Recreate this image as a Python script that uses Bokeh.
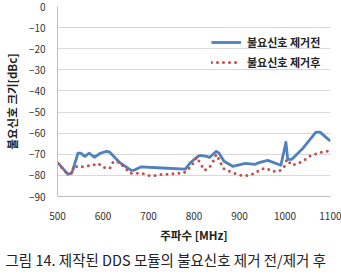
from bokeh.plotting import figure
from bokeh.models import Title, Legend, LegendItem, Range1d, FixedTicker
from bokeh.embed import file_html
from bokeh.resources import INLINE

# Before removal (blue line)
freq_before = [500, 523, 532, 545, 551, 560, 570, 581, 594, 608, 615, 636, 662, 668, 683,
               730, 781, 792, 806, 813, 828, 834, 849, 855, 866, 885, 913, 934, 945, 962,
               991, 1002, 1006, 1015, 1040, 1068, 1077, 1087, 1100]
val_before = [-73.8, -79.5, -78.6, -69.5, -69.5, -71.0, -69.5, -71.4, -69.5, -68.6, -69.0, -73.8,
              -77.6, -77.6, -76.0, -76.5, -77.0, -74.0, -71.4, -70.5, -71.0, -71.5, -68.6, -69.5,
              -73.3, -75.7, -74.3, -74.8, -73.8, -72.9, -75.2, -64.3, -72.4, -72.4, -67.0,
              -59.5, -59.5, -61.4, -63.8]

# After removal (red dotted)
freq_after = [500, 511, 521, 532, 536, 547, 560, 577, 589, 600, 615, 623, 636, 647, 660, 672,
              685, 700, 715, 732, 747, 762, 777, 789, 798, 806, 823, 834, 843, 849, 857, 864,
              877, 889, 904, 919, 934, 947, 960, 970, 987, 998, 1004, 1015, 1030, 1045, 1057,
              1072, 1087, 1100]
val_after = [-74.3, -76.7, -79.0, -79.0, -75.2, -76.2, -75.7, -75.2, -74.3, -76.2, -76.7, -73.3,
             -73.8, -76.2, -79.0, -79.0, -79.0, -80.0, -80.0, -79.5, -79.5, -79.0, -79.0, -76.7,
             -74.3, -71.4, -77.6, -76.2, -72.9, -70.0, -73.3, -76.7, -78.0, -79.0, -80.0, -80.0,
             -79.0, -77.0, -76.7, -78.0, -78.0, -76.2, -72.4, -75.2, -74.3, -72.4, -70.5,
             -69.5, -68.6, -68.6]

x_ticks = [500, 600, 700, 800, 900, 1000, 1100]
y_ticks = [0, -10, -20, -30, -40, -50, -60, -70, -80, -90]
series_names = ["불요신호 제거전", "불요신호 제거후"]
x_label = "주파수 [MHz]"
y_label = "불요신호 크기[dBc]"
caption1 = "그림 14. 제작된 DDS 모듈의 불요신호 제거 전/제거 후"

FONT = "Noto Sans CJK KR"

p = figure(width=341, height=274, output_backend="svg", toolbar_location=None,
           x_range=Range1d(500, 1100), y_range=Range1d(-90, 0),
           min_border_left=8, min_border_right=11, min_border_top=6, min_border_bottom=78)
p.outline_line_color = None
p.background_fill_color = "white"

r1 = p.line(freq_before, val_before, line_color="#4F81BD", line_width=2.8, line_join="round")
r2 = p.line(freq_after, val_after, line_color="#C0504D", line_width=3,
            line_dash="0 6", line_cap="round")

for ax in (p.xaxis[0], p.yaxis[0]):
    ax.major_tick_line_color = None
    ax.minor_tick_line_color = None
    ax.axis_line_color = "#BFBFBF"
    ax.major_label_text_font = FONT
    ax.major_label_text_font_size = "10px"
    ax.major_label_text_color = "#333333"
    ax.axis_label_text_font = FONT
    ax.axis_label_text_font_style = "bold"
    ax.axis_label_text_font_size = "11.5px"
    ax.axis_label_text_color = "#222222"

p.xaxis.ticker = FixedTicker(ticks=x_ticks)
p.yaxis.ticker = FixedTicker(ticks=y_ticks)
p.xaxis.major_label_standoff = 9
p.yaxis.major_label_standoff = 6
p.xaxis.axis_label = x_label
p.yaxis.axis_label = y_label
p.xaxis.axis_label_standoff = 4
p.yaxis.axis_label_standoff = 6

p.xgrid.grid_line_color = None
p.ygrid.grid_line_color = "#D9D9D9"
p.ygrid.grid_line_width = 1

legend = Legend(items=[LegendItem(label=series_names[0], renderers=[r1]),
                       LegendItem(label=series_names[1], renderers=[r2])],
                location=(154, 126), border_line_color=None, background_fill_alpha=0,
                label_text_font=FONT, label_text_font_style="bold",
                label_text_font_size="11px", label_text_color="#222222",
                glyph_width=30, glyph_height=16, label_height=16, spacing=4,
                padding=0, margin=0, label_standoff=6)
p.add_layout(legend, "center")

t1 = Title(text=caption1, text_font=FONT, text_font_size="14.5px",
           text_font_style="normal", text_color="#222222", align="left", offset=-52,
           standoff=3)
p.add_layout(t1, "below")

open("out.html", "w").write(file_html(p, INLINE))
